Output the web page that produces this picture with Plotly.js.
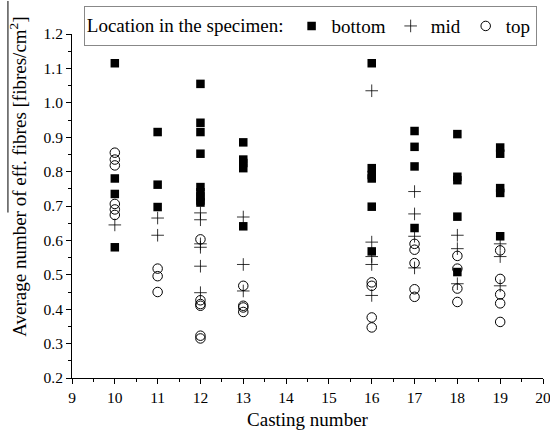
<!DOCTYPE html>
<html>
<head>
<meta charset="utf-8">
<script src="https://cdn.plot.ly/plotly-3.0.1.min.js"></script>
<style>
html,body{margin:0;padding:0;background:#fff;}
#chart{width:550px;height:436px;}
</style>
</head>
<body>
<div id="chart"></div>
<script>
// casting numbers and values for each location
const bottomX = [10,10,10,10, 11,11,11, 12,12,12,12,12,12,12,12,12, 13,13,13,13,13, 16,16,16,16,16,16, 17,17,17,17, 18,18,18,18,18, 19,19,19,19,19];
const bottomY = [1.115,0.78,0.735,0.58, 0.915,0.762,0.697, 1.055,0.942,0.915,0.852,0.755,0.74,0.728,0.716,0.71, 0.885,0.835,0.825,0.81,0.641, 1.115,0.81,0.79,0.78,0.698,0.568, 0.918,0.872,0.815,0.636, 0.909,0.785,0.775,0.669,0.508, 0.87,0.852,0.752,0.738,0.612];

const midX = [10, 11,11, 12,12,12,12,12,12, 13,13,13, 16,16,16,16,16, 17,17,17,17, 18,18,18, 19,19,19];
const midY = [0.645, 0.665,0.615, 0.68,0.66,0.59,0.58,0.525,0.448, 0.668,0.53,0.453, 1.035,0.595,0.553,0.53,0.44, 0.742,0.677,0.612,0.52, 0.615,0.576,0.474, 0.59,0.553,0.468];

const topX = [10,10,10,10,10,10, 11,11,11, 12,12,12,12,12,12, 13,13,13,13, 16,16,16,16, 17,17,17,17,17, 18,18,18,18, 19,19,19,19,19];
const topY = [0.855,0.835,0.818,0.706,0.69,0.674, 0.518,0.496,0.45, 0.603,0.426,0.415,0.41,0.323,0.315, 0.468,0.41,0.405,0.392, 0.478,0.468,0.376,0.347, 0.59,0.573,0.534,0.458,0.436, 0.555,0.518,0.46,0.421, 0.571,0.488,0.443,0.417,0.363];

const seriesNames = ['bottom','mid','top'];
const xTicks = [9,10,11,12,13,14,15,16,17,18,19,20];
const yTitle = 'Average number of eff. fibres [fibres/cm<sup>2</sup>]';

const font = 'Liberation Serif';

const traces = [
  {x: bottomX, y: bottomY, name: seriesNames[0], type:'scatter', mode:'markers', cliponaxis:false,
   marker:{symbol:'square', size:8.5, color:'#000', line:{width:0}}},
  {x: midX, y: midY, name: seriesNames[1], type:'scatter', mode:'markers', cliponaxis:false,
   marker:{symbol:'cross-thin-open', size:9, color:'#000', line:{width:0.8, color:'#000'}}},
  {x: topX, y: topY, name: seriesNames[2], type:'scatter', mode:'markers', cliponaxis:false,
   marker:{symbol:'circle-open', size:9.5, color:'#000', line:{width:1, color:'#000'}}}
];

const layout = {
  width: 550, height: 436,
  margin: {l:72, r:7, t:33, b:58},
  paper_bgcolor:'#fff', plot_bgcolor:'#fff',
  font: {family: font, size: 16, color:'#000'},
  showlegend: true,
  legend: {
    orientation:'h', x:0.025, xanchor:'left', y:1.078, yanchor:'top',
    bordercolor:'#888', borderwidth:1, bgcolor:'#fff',
    font:{family:font, size:19, color:'#000'},
    title:{text:'Location in the specimen:', side:'left', font:{family:font, size:19, color:'#000'}},
    itemwidth:30
  },
  xaxis: {
    range:[9,20], tickvals:xTicks, ticktext:xTicks.map(String),
    showgrid:false, zeroline:false, showline:true, linecolor:'#000', linewidth:1,
    ticks:'outside', ticklen:5, tickcolor:'#000', tickwidth:1,
    minor:{ticks:'outside', dtick:0.5, ticklen:3, tickcolor:'#000', tickwidth:1, showgrid:false},
    tickfont:{family:font, size:15.5, color:'#000'},
    ticklabeloverflow:'allow',
    title:{text:'Casting number', font:{family:font, size:19, color:'#000'}, standoff:8}
  },
  yaxis: {
    range:[0.2,1.2], dtick:0.1, tick0:0.2, tickformat:'.1f',
    showgrid:false, zeroline:false, showline:true, linecolor:'#000', linewidth:1,
    ticks:'outside', ticklen:5, tickcolor:'#000', tickwidth:1,
    minor:{ticks:'outside', dtick:0.05, ticklen:3, tickcolor:'#000', tickwidth:1, showgrid:false},
    tickfont:{family:font, size:15.5, color:'#000'}
  },
  annotations: [
    {text: yTitle, xref:'paper', yref:'paper', x:-0.1146, y:0.585, xanchor:'center', yanchor:'middle',
     textangle:-90, showarrow:false, font:{family:font, size:19, color:'#000'}}
  ],
  shapes: [
    {type:'line', xref:'paper', yref:'paper', x0:-0.136, x1:-0.136, y0:0.481, y1:1.096,
     line:{color:'#000', width:1}}
  ]
};

Plotly.newPlot('chart', traces, layout, {displayModeBar:false, staticPlot:true});
</script>
</body>
</html>
